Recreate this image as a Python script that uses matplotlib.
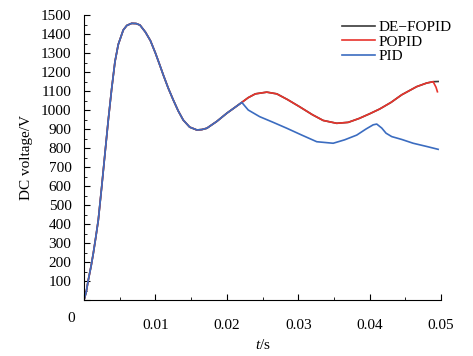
import matplotlib
matplotlib.use("Agg")
import matplotlib.pyplot as plt
from matplotlib.ticker import MultipleLocator

plt.rcParams["font.family"] = ["Liberation Serif", "DejaVu Serif"]
plt.rcParams["mathtext.fontset"] = "custom"
plt.rcParams["mathtext.rm"] = "Liberation Serif"
plt.rcParams["mathtext.it"] = "Liberation Serif:italic"

# shared start of all three responses (t in ms, voltage in V)
t_start = [0, 0.3, 0.6, 1.0, 1.3, 1.65, 2.0, 2.48, 2.94, 3.4, 3.87, 4.34, 4.8, 5.5,
           6.0, 6.67, 7.3, 7.84, 8.6, 9.3, 10.0, 10.6, 11.1, 11.8, 12.5, 13.2, 13.9,
           14.8, 15.8, 16.5, 17.2, 18.6, 20.0, 21.0, 22.1]
v_start = [0, 40, 105, 180, 245, 330, 420, 596, 772, 947, 1110, 1255, 1345, 1421,
           1445, 1456, 1455, 1447, 1410, 1365, 1300, 1238, 1185, 1115, 1053, 995, 947,
           910, 895, 897, 904, 940, 983, 1010, 1040]

# POPID tail
t_popid = [23.0, 24.0, 25.6, 27.0, 28.5, 30.2, 32.0, 33.5, 35.4, 37.0, 38.5, 40.0,
           41.4, 43.0, 44.5, 46.6, 48.0, 48.9, 49.3, 49.5]
v_popid = [1065, 1085, 1094, 1085, 1055, 1017, 975, 945, 930, 935, 955, 980,
           1005, 1040, 1080, 1123, 1142, 1149, 1120, 1096]

# DE-FOPID tail (follows POPID, ends without the hook)
t_defopid = [23.0, 24.0, 25.6, 27.0, 28.5, 30.2, 32.0, 33.5, 35.4, 37.0, 38.5, 40.0,
             41.4, 43.0, 44.5, 46.6, 48.0, 48.9, 49.6]
v_defopid = [1065, 1085, 1094, 1085, 1055, 1017, 975, 945, 930, 935, 955, 980,
             1005, 1040, 1080, 1123, 1142, 1149, 1150]

# PID tail
t_pid = [23.0, 24.6, 26.5, 28.4, 30.5, 32.6, 34.9, 36.5, 38.2, 39.5, 40.5, 41.0,
         41.7, 42.3, 43.1, 44.5, 46.1, 48.0, 49.6]
v_pid = [1000, 965, 935, 904, 868, 833, 825, 843, 868, 900, 922, 926,
         905, 878, 860, 845, 825, 808, 793]

labels = ["DE\u2212FOPID", "POPID", "PID"]
colors = ["#3a3a3a", "#e8342c", "#3b6cc0"]
tails = [(t_defopid, v_defopid), (t_popid, v_popid), (t_pid, v_pid)]

fig = plt.figure(figsize=(4.73, 3.56), dpi=100)
ax = fig.add_axes([84 / 473, 1 - 300 / 356, (441 - 84) / 473, (300 - 15) / 356])

for lab, col, (tt, vv) in zip(labels, colors, tails):
    t = [x / 1000 for x in t_start + tt]
    v = v_start + vv
    ax.plot(t, v, color=col, lw=1.2, label=lab)

ax.set_xlim(0, 0.05)
ax.set_ylim(0, 1500)
ax.spines["top"].set_visible(False)
ax.spines["right"].set_visible(False)

ax.xaxis.set_minor_locator(MultipleLocator(0.005))
ax.yaxis.set_minor_locator(MultipleLocator(50))
ax.set_xticks([0, 0.01, 0.02, 0.03, 0.04, 0.05])
ax.set_xticklabels(["", "0.01", "0.02", "0.03", "0.04", "0.05"])
ax.set_yticks(range(0, 1501, 100))
ax.set_yticklabels([""] + [str(y) for y in range(100, 1501, 100)])
ax.tick_params(which="major", direction="in", length=4, labelsize=11)
ax.tick_params(axis="x", which="major", pad=14)
ax.tick_params(axis="y", which="major", pad=9)
ax.tick_params(which="minor", direction="in", length=2)
ax.annotate("0", xy=(0, 0), xytext=(-9, -13), textcoords="offset points",
            ha="center", va="center", fontsize=11)

ax.set_xlabel("$t$/s", fontsize=11, labelpad=4)
ax.set_ylabel("DC voltage/V", fontsize=11, labelpad=6)

ax.legend(loc="upper left", bbox_to_anchor=(334 / 473, 1 - 13 / 356),
          bbox_transform=fig.transFigure, frameon=False, fontsize=11,
          handlelength=2.2, handletextpad=0.2, labelspacing=0.05, borderpad=0)

fig.savefig("out.png", dpi=100)
